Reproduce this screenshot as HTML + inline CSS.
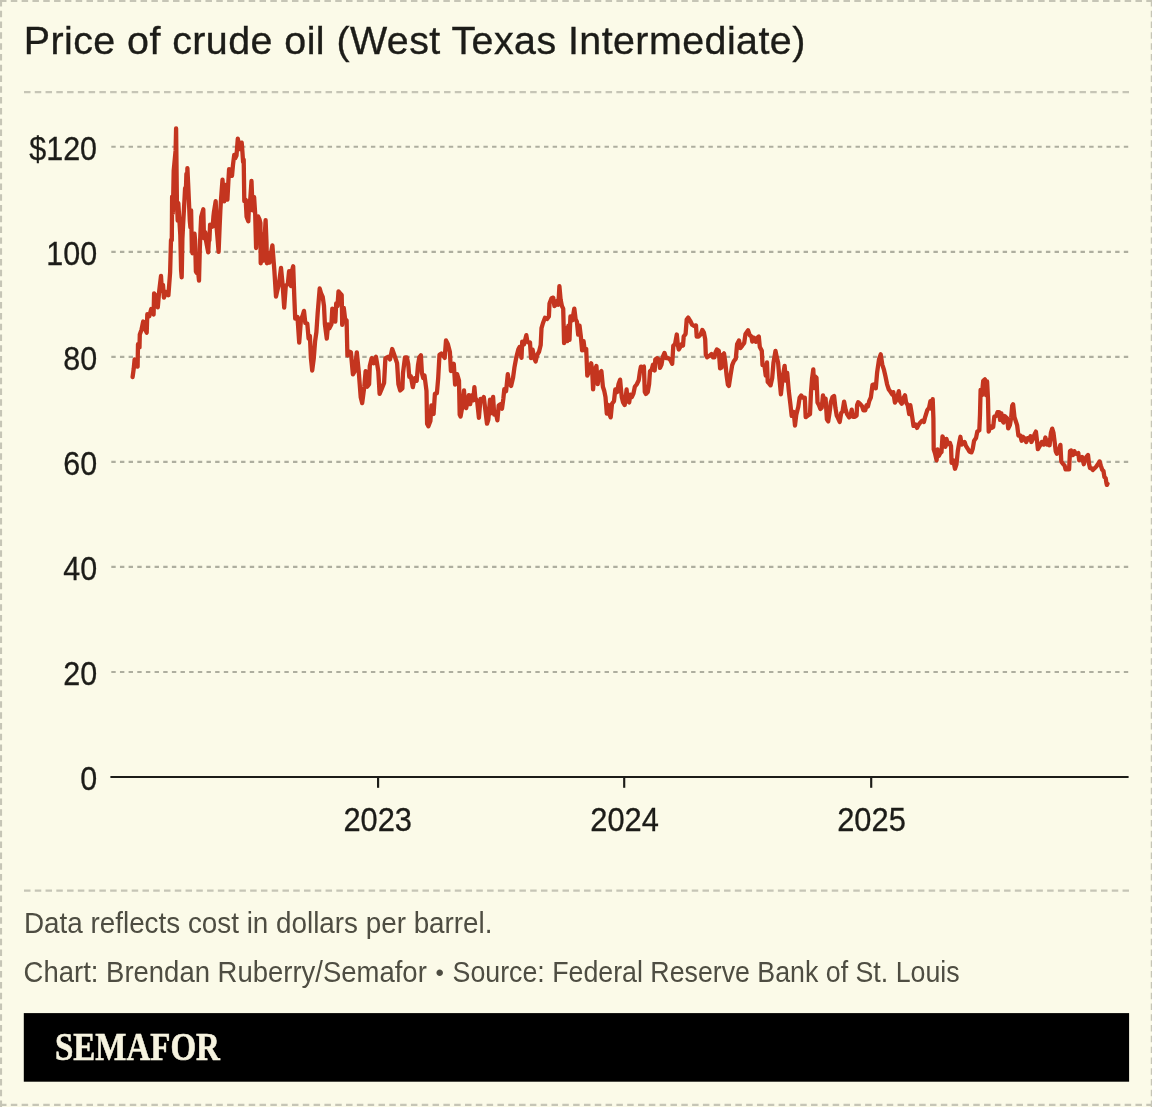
<!DOCTYPE html>
<html lang="en"><head><meta charset="utf-8"><title>Price of crude oil (West Texas Intermediate)</title>
<style>html,body{margin:0;padding:0;background:#fbfae8;overflow:hidden}svg{display:block}text{font-family:"Liberation Sans",Arial,Helvetica,sans-serif}.ax{font-size:32.6px;fill:#1c1c18;stroke:#1c1c18;stroke-width:0.3px}.ft{font-size:29.6px;fill:#4e4d42}.logo{font-family:"Liberation Serif","DejaVu Serif",serif;font-weight:bold;fill:#f6f3df}</style></head><body>
<svg width="1152" height="1107" viewBox="0 0 1152 1107">
<rect x="0" y="0" width="1152" height="1107" fill="#fbfae8"/>
<g fill="none" stroke="#c6c5b6" stroke-width="2.16">
<line x1="0" y1="1.0" x2="1152" y2="1.0" stroke-dasharray="6.49 4.324"/>
<line x1="0" y1="1104.9" x2="1152" y2="1104.9" stroke-dasharray="6.49 4.324"/>
<line x1="1.0" y1="0" x2="1.0" y2="1107" stroke-dasharray="6.49 4.3"/>
<line x1="1151.85" y1="0" x2="1151.85" y2="1107" stroke-dasharray="6.49 4.3"/>
<line x1="24" y1="92.1" x2="1129" y2="92.1" stroke-dasharray="6.49 4.28"/>
<line x1="24" y1="890.6" x2="1129" y2="890.6" stroke-dasharray="6.49 4.28"/>
</g>
<text x="23.7" y="54.3" font-size="39.4" fill="#1c1c18" stroke="#1c1c18" stroke-width="0.35" textLength="781.6" lengthAdjust="spacing">Price of crude oil (West Texas Intermediate)</text>
<g fill="none" stroke="#aeae9f" stroke-width="2.15" stroke-dasharray="4.4 4.254">
<line x1="111.3" y1="672.0" x2="1128.6" y2="672.0"/>
<line x1="111.3" y1="566.9" x2="1128.6" y2="566.9"/>
<line x1="111.3" y1="461.9" x2="1128.6" y2="461.9"/>
<line x1="111.3" y1="356.8" x2="1128.6" y2="356.8"/>
<line x1="111.3" y1="251.8" x2="1128.6" y2="251.8"/>
<line x1="111.3" y1="146.7" x2="1128.6" y2="146.7"/>
</g>
<text class="ax" x="80.14" y="790.0" textLength="16.96" lengthAdjust="spacingAndGlyphs">0</text>
<text class="ax" x="63.18" y="685.0" textLength="33.92" lengthAdjust="spacingAndGlyphs">20</text>
<text class="ax" x="63.18" y="579.9" textLength="33.92" lengthAdjust="spacingAndGlyphs">40</text>
<text class="ax" x="63.18" y="474.9" textLength="33.92" lengthAdjust="spacingAndGlyphs">60</text>
<text class="ax" x="63.18" y="369.8" textLength="33.92" lengthAdjust="spacingAndGlyphs">80</text>
<text class="ax" x="46.22" y="264.8" textLength="50.88" lengthAdjust="spacingAndGlyphs">100</text>
<text class="ax" x="29.26" y="159.7" textLength="67.84" lengthAdjust="spacingAndGlyphs">$120</text>
<g stroke="#1c1c18" stroke-width="2.15" fill="none">
<line x1="110.4" y1="777.0" x2="1128.6" y2="777.0"/>
<line x1="378.1" y1="777.0" x2="378.1" y2="787.8"/>
<line x1="624.2" y1="777.0" x2="624.2" y2="787.8"/>
<line x1="871.2" y1="777.0" x2="871.2" y2="787.8"/>
</g>
<text class="ax" x="343.40" y="831.1" textLength="68.6" lengthAdjust="spacingAndGlyphs">2023</text>
<text class="ax" x="590.30" y="831.1" textLength="68.6" lengthAdjust="spacingAndGlyphs">2024</text>
<text class="ax" x="837.20" y="831.1" textLength="68.6" lengthAdjust="spacingAndGlyphs">2025</text>
<path d="M132.6 377.0 L133.7 368.9 L134.6 359.5 L135.9 360.4 L137.6 366.6 L138.0 344.2 L139.5 347.4 L139.8 334.4 L141.5 329.8 L143.2 321.5 L144.7 328.5 L146.7 332.7 L147.3 314.2 L149.3 316.2 L151.2 309.0 L153.6 314.5 L154.1 293.4 L155.8 296.0 L157.8 307.3 L159.1 292.1 L161.0 275.9 L161.9 290.8 L163.0 284.9 L163.9 297.6 L166.2 292.1 L168.4 295.3 L170.1 272.6 L171.0 240.0 L171.8 240.2 L172.1 196.6 L172.9 212.9 L173.7 170.6 L175.6 150.4 L176.1 128.4 L176.9 201.2 L177.7 220.7 L178.3 203.1 L180.3 235.0 L181.1 270.2 L181.7 277.3 L182.4 238.9 L183.0 227.2 L185.1 188.1 L185.8 193.3 L186.4 173.8 L187.1 182.9 L187.4 168.1 L188.1 182.9 L189.8 220.7 L190.4 227.2 L191.1 210.3 L191.9 250.6 L192.5 253.2 L194.5 233.7 L195.1 240.2 L195.9 271.5 L196.6 272.8 L197.2 262.3 L199.0 280.6 L199.8 249.3 L200.5 231.1 L201.2 216.8 L203.3 209.2 L204.0 238.3 L204.6 238.3 L205.3 232.4 L205.9 240.2 L208.2 252.3 L208.8 241.5 L209.4 240.2 L210.1 224.6 L210.8 227.2 L212.7 226.5 L213.4 216.8 L214.0 211.6 L215.7 201.2 L216.6 227.2 L217.7 240.2 L218.6 251.9 L219.6 227.2 L220.3 211.6 L220.9 201.2 L222.5 179.7 L223.5 193.3 L224.2 201.4 L225.5 184.9 L226.5 193.3 L227.4 199.6 L228.3 182.9 L229.1 169.2 L230.0 175.1 L230.9 171.2 L232.0 175.8 L233.0 164.7 L234.2 154.9 L235.2 158.2 L236.5 155.6 L237.8 138.7 L238.8 143.8 L239.8 149.1 L240.7 145.2 L241.7 142.6 L242.4 151.7 L243.1 162.1 L243.7 159.5 L244.3 201.2 L245.7 199.8 L246.6 216.8 L248.3 221.3 L249.2 201.2 L250.2 199.8 L251.5 181.0 L252.6 210.3 L254.1 197.2 L255.2 214.2 L256.1 248.0 L256.8 234.7 L258.1 216.5 L259.4 219.1 L260.4 223.0 L260.7 263.3 L261.7 247.7 L262.6 234.7 L263.7 260.7 L264.6 238.6 L265.6 220.1 L266.5 242.5 L266.9 263.3 L268.2 252.9 L269.5 262.7 L270.8 254.2 L272.4 245.4 L273.4 258.1 L274.4 271.1 L276.0 296.5 L277.6 289.4 L278.9 284.2 L281.0 267.9 L282.6 284.2 L284.2 307.6 L285.8 285.5 L287.8 284.2 L289.1 271.1 L291.0 286.1 L291.9 271.1 L293.2 266.3 L294.3 297.2 L295.2 318.7 L297.5 317.1 L299.2 342.5 L301.0 319.1 L302.3 316.5 L304.0 310.9 L305.3 323.0 L307.3 323.6 L308.6 338.6 L309.9 336.0 L310.9 358.1 L312.2 370.5 L313.8 358.1 L315.1 341.2 L316.4 332.1 L317.7 312.6 L319.7 288.5 L321.0 293.0 L322.7 296.9 L324.0 306.0 L324.9 324.3 L326.8 338.6 L328.1 324.3 L329.4 328.2 L331.4 324.3 L332.3 308.6 L334.0 309.9 L335.3 321.7 L336.2 303.4 L337.5 306.0 L338.5 291.3 L339.8 293.0 L341.7 295.0 L342.2 324.9 L343.8 308.0 L345.1 319.1 L346.6 320.4 L347.4 355.5 L349.0 351.6 L350.9 352.3 L352.9 374.4 L354.8 371.1 L356.8 352.3 L358.7 371.1 L360.7 397.2 L362.2 403.1 L364.3 386.8 L365.6 371.1 L367.2 386.8 L369.1 384.2 L369.8 365.9 L371.7 358.1 L373.7 363.3 L376.0 356.8 L378.3 371.1 L379.6 393.9 L381.5 389.4 L384.1 382.9 L385.4 358.1 L388.0 356.8 L390.0 359.4 L392.2 349.0 L394.5 355.5 L397.1 363.3 L398.4 384.2 L400.2 390.5 L402.4 388.5 L403.0 372.9 L405.0 357.3 L406.9 357.3 L408.2 363.8 L409.3 376.8 L410.8 376.2 L412.8 387.2 L414.7 378.1 L416.7 380.7 L418.0 365.1 L419.3 357.3 L420.9 355.3 L421.9 372.9 L423.2 378.1 L424.5 375.5 L426.5 391.1 L427.1 423.7 L428.4 426.3 L430.4 421.1 L431.4 405.5 L432.3 413.3 L433.6 413.9 L434.9 393.8 L436.9 393.1 L438.2 378.1 L439.5 354.7 L441.4 353.4 L442.7 354.7 L444.7 357.9 L446.0 340.4 L447.9 344.3 L449.9 352.1 L450.9 371.0 L452.5 370.3 L453.8 363.8 L455.1 384.6 L457.1 374.2 L459.0 380.7 L459.7 414.6 L460.6 416.5 L462.3 406.8 L464.0 390.5 L464.9 404.2 L466.2 408.1 L467.5 401.6 L468.8 395.1 L470.1 404.2 L472.0 395.1 L473.3 400.3 L474.4 387.2 L475.3 397.7 L477.2 401.6 L478.9 417.8 L480.5 399.0 L481.8 400.3 L483.8 397.0 L485.1 408.1 L487.0 423.7 L488.3 419.8 L490.0 399.6 L490.9 413.3 L493.1 397.0 L494.2 414.6 L495.7 412.0 L497.4 420.4 L498.7 405.5 L500.4 404.2 L502.0 408.7 L503.3 399.0 L504.3 389.2 L506.1 391.1 L507.8 374.2 L509.1 383.3 L511.1 385.9 L513.0 378.1 L514.4 367.7 L516.3 357.3 L518.3 349.5 L519.6 346.9 L521.5 357.9 L522.2 341.7 L524.1 344.3 L526.3 335.2 L527.4 341.7 L529.3 343.0 L530.0 342.5 L531.0 358.1 L532.6 349.7 L534.2 358.1 L535.6 361.4 L537.2 354.9 L539.1 351.6 L540.7 345.1 L541.5 328.2 L543.0 323.0 L545.0 317.8 L546.9 319.1 L548.9 316.5 L549.5 303.4 L551.5 298.2 L553.2 297.6 L554.4 306.0 L556.0 304.7 L557.3 300.8 L558.4 304.7 L559.4 286.1 L560.6 299.5 L561.9 306.0 L563.2 308.6 L564.1 343.1 L565.8 328.2 L567.1 341.2 L568.4 325.6 L569.5 339.9 L570.4 316.5 L572.3 320.4 L574.3 308.6 L575.6 319.1 L576.9 321.7 L578.2 334.7 L579.5 325.6 L580.8 336.0 L582.1 350.3 L583.6 341.2 L584.7 350.3 L586.2 349.0 L587.3 375.7 L589.2 371.1 L591.2 363.3 L592.2 371.1 L593.1 389.4 L594.5 371.1 L596.4 365.9 L597.7 384.2 L599.0 373.8 L601.4 371.1 L602.9 386.8 L604.2 390.7 L605.5 397.2 L606.8 413.5 L608.1 405.0 L609.4 414.1 L610.7 417.4 L612.0 403.7 L614.0 401.1 L615.3 389.4 L617.2 392.0 L618.5 384.2 L620.1 379.6 L621.1 390.7 L621.8 397.2 L623.1 402.4 L624.7 405.0 L625.7 397.2 L626.6 389.4 L627.7 401.1 L629.2 402.4 L630.3 394.6 L631.8 397.2 L633.5 393.3 L634.8 386.8 L636.8 384.2 L638.7 380.3 L640.0 371.1 L640.9 366.6 L642.6 367.2 L643.9 366.6 L644.8 392.0 L645.9 393.9 L647.8 392.0 L649.1 384.2 L650.0 371.1 L651.7 369.8 L653.0 364.6 L654.7 370.5 L655.3 359.4 L657.0 358.1 L658.9 359.4 L660.0 367.9 L661.5 364.6 L662.8 356.8 L664.5 352.9 L666.1 358.1 L668.0 358.1 L670.0 359.4 L670.0 359.2 L672.2 363.8 L673.3 345.6 L675.0 344.3 L676.8 334.5 L677.8 344.3 L678.7 349.5 L680.4 346.9 L681.7 344.3 L683.0 345.6 L683.7 336.5 L685.6 333.9 L686.7 319.5 L688.2 317.6 L690.2 320.8 L692.1 324.7 L694.1 326.0 L696.0 325.4 L696.7 336.5 L698.6 336.5 L700.6 334.5 L702.3 329.9 L703.9 332.6 L705.2 339.1 L705.8 354.7 L707.1 357.3 L709.1 356.0 L711.4 354.0 L713.0 357.3 L714.5 357.3 L715.6 352.1 L716.9 349.5 L718.8 350.8 L720.1 368.4 L721.4 367.7 L722.7 354.7 L724.0 353.4 L725.3 362.5 L726.6 375.5 L727.9 384.6 L728.9 385.9 L730.5 375.5 L732.2 365.1 L733.8 361.2 L735.8 358.6 L737.1 344.3 L739.0 340.4 L740.3 348.2 L742.3 345.6 L744.2 343.0 L745.5 333.9 L748.1 330.3 L749.7 335.2 L751.4 336.5 L752.3 341.7 L754.0 337.8 L755.9 341.7 L757.2 337.8 L758.8 336.5 L759.8 346.9 L761.8 350.8 L762.5 365.1 L764.4 365.1 L765.7 375.5 L767.0 362.5 L767.7 382.0 L769.0 383.3 L770.6 385.3 L772.2 378.1 L773.5 362.5 L775.5 350.8 L776.8 357.3 L778.1 362.5 L779.4 378.1 L780.9 394.4 L782.6 378.1 L784.6 365.8 L785.9 380.7 L787.2 372.9 L788.8 391.1 L790.4 404.2 L791.7 415.9 L793.7 412.0 L795.0 425.6 L796.3 414.6 L798.3 406.8 L799.6 397.7 L801.2 395.4 L802.8 397.7 L804.8 397.7 L805.7 417.2 L807.4 415.9 L809.3 414.6 L810.0 414.2 L811.0 392.1 L812.0 379.1 L813.3 369.3 L814.2 388.2 L815.2 376.5 L816.5 377.8 L817.5 402.5 L818.9 405.1 L820.4 409.0 L821.7 407.7 L823.0 395.3 L824.3 405.1 L825.6 398.6 L826.9 419.4 L828.2 421.4 L829.5 412.9 L830.8 402.5 L832.4 397.3 L834.1 396.0 L835.4 407.7 L836.7 415.5 L838.0 418.1 L839.7 422.0 L841.2 412.9 L842.5 411.6 L844.1 401.6 L845.8 410.3 L847.1 414.2 L849.1 417.5 L850.6 415.5 L851.7 409.7 L853.0 416.8 L854.9 416.8 L856.6 415.5 L857.1 405.1 L858.2 402.2 L860.1 403.8 L862.1 406.4 L863.4 410.3 L865.3 410.3 L866.6 405.1 L867.9 406.4 L869.2 401.2 L870.9 397.3 L872.5 384.9 L874.5 384.3 L875.8 388.2 L877.1 372.6 L879.0 359.5 L880.7 354.3 L882.3 364.7 L884.0 369.9 L885.5 376.5 L887.1 384.3 L888.8 389.5 L890.7 392.1 L892.3 394.7 L893.3 392.1 L894.9 402.5 L896.6 399.9 L898.8 391.2 L900.1 401.2 L901.8 403.8 L903.1 398.6 L905.0 395.3 L906.1 402.5 L907.7 405.1 L909.2 414.2 L910.3 405.1 L911.6 412.9 L913.5 425.9 L915.5 424.6 L917.0 427.9 L918.7 424.6 L920.7 422.0 L922.2 420.7 L923.9 422.0 L925.2 416.8 L927.2 410.3 L929.1 407.7 L930.4 401.2 L931.7 409.0 L932.7 399.2 L933.4 418.1 L933.7 449.4 L935.0 453.3 L936.6 460.4 L937.6 449.4 L938.9 455.9 L940.2 453.3 L941.5 452.0 L942.5 436.4 L944.1 440.3 L945.4 446.8 L946.5 439.0 L948.0 444.2 L950.0 442.9 L950.0 443.3 L951.0 445.9 L951.6 462.9 L953.3 460.3 L955.0 468.7 L956.5 464.2 L957.8 451.1 L959.1 443.3 L960.4 436.8 L961.7 444.6 L963.0 443.3 L964.6 442.0 L965.9 445.9 L967.6 448.5 L969.5 451.8 L971.5 452.4 L972.8 448.5 L974.1 440.7 L976.0 438.1 L977.3 431.6 L979.3 430.3 L980.0 414.7 L980.6 389.9 L981.9 395.2 L983.2 380.8 L984.9 379.3 L986.2 395.2 L987.1 381.5 L988.0 399.1 L988.7 431.6 L990.4 426.4 L991.9 427.7 L993.2 427.1 L994.3 416.6 L996.2 416.0 L997.5 412.1 L999.2 412.1 L1000.1 419.9 L1001.4 413.4 L1002.7 421.2 L1003.6 422.5 L1004.7 416.0 L1006.0 417.3 L1007.3 418.6 L1008.2 428.4 L1009.9 425.1 L1011.2 417.3 L1012.2 405.6 L1013.1 404.3 L1014.5 417.3 L1015.8 421.2 L1017.1 425.1 L1018.4 435.5 L1020.3 435.5 L1021.6 440.7 L1022.9 436.8 L1024.2 438.1 L1026.2 442.0 L1027.5 438.1 L1028.8 439.4 L1030.5 436.2 L1031.4 442.0 L1033.3 438.1 L1034.6 434.2 L1035.9 431.6 L1037.0 440.7 L1037.9 449.2 L1039.8 445.9 L1041.8 442.0 L1043.8 444.6 L1045.4 437.5 L1047.0 444.6 L1048.3 440.7 L1049.6 445.3 L1050.9 432.9 L1052.2 428.6 L1053.5 432.9 L1054.8 443.3 L1055.7 451.1 L1056.8 453.8 L1058.7 451.1 L1060.4 444.9 L1061.3 461.6 L1063.3 464.2 L1064.6 465.5 L1065.6 469.4 L1067.2 469.4 L1069.1 469.4 L1070.0 451.1 L1071.1 450.5 L1073.0 455.1 L1074.3 451.1 L1075.7 453.8 L1077.0 453.8 L1078.3 453.1 L1079.2 460.3 L1080.9 459.0 L1082.2 457.0 L1083.8 464.2 L1085.4 459.0 L1086.7 456.4 L1088.0 455.1 L1089.1 464.2 L1090.0 468.1 L1091.3 468.1 L1092.8 470.0 L1094.4 468.5 L1096.3 466.6 L1097.7 464.6 L1099.6 461.4 L1100.9 465.9 L1102.2 469.8 L1103.5 471.1 L1104.4 477.0 L1105.7 478.3 L1106.4 482.9 L1106.9 484.9 L1107.5 483.8" fill="none" stroke="#c4351f" stroke-width="4.3" stroke-linejoin="round" stroke-linecap="round"/>
<text class="ft" x="24.0" y="932.5" textLength="468.5" lengthAdjust="spacingAndGlyphs">Data reflects cost in dollars per barrel.</text>
<text class="ft" y="982.4"><tspan x="23.6" textLength="403.2" lengthAdjust="spacingAndGlyphs">Chart: Brendan Ruberry/Semafor</tspan><tspan x="439.8" y="981.2" text-anchor="middle" font-size="24"> • </tspan><tspan x="452.6" y="982.4" textLength="507" lengthAdjust="spacingAndGlyphs">Source: Federal Reserve Bank of St. Louis</tspan></text>
<rect x="23.8" y="1013.1" width="1105.3" height="68.6" fill="#000"/>
<text class="logo" x="54.9" y="1060.3" font-size="39.5" stroke="#f6f3df" stroke-width="0.6" textLength="165" lengthAdjust="spacingAndGlyphs">SEMAFOR</text>
</svg></body></html>
